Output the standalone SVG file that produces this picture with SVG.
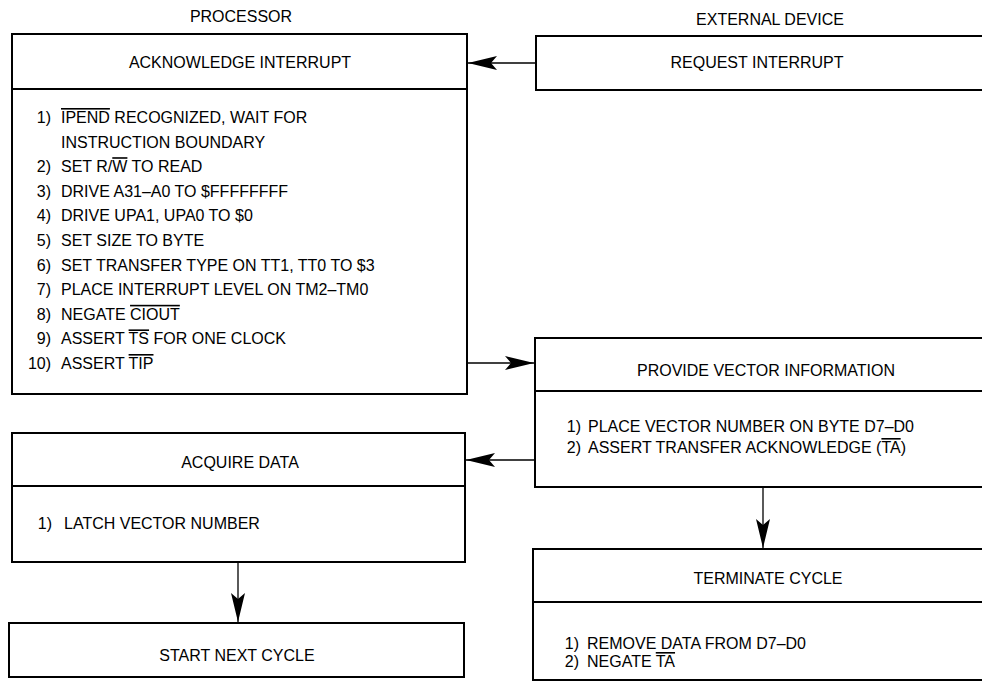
<svg xmlns="http://www.w3.org/2000/svg" width="982" height="683" viewBox="0 0 982 683">
<style>
text{font-family:"Liberation Sans",Arial,sans-serif;font-size:16px;fill:#000}
.c{text-anchor:middle}
.n{text-anchor:end}
.box{fill:#fff;stroke:#000;stroke-width:2}
.div{stroke:#000;stroke-width:2}
.ov{text-decoration:overline}
.con{stroke:#000;stroke-width:1.3;fill:none;marker-end:url(#ah)}
</style>
<defs>
<marker id="ah" viewBox="-29 -8 30 16" refX="0" refY="0" markerWidth="30" markerHeight="16" markerUnits="userSpaceOnUse" orient="auto">
<path d="M0,0 L-29,-7 L-23,0 L-29,7 Z" fill="#000"/>
</marker>
</defs>
<rect width="982" height="683" fill="#fff"/>
<text class="c" x="241" y="22">PROCESSOR</text>
<text class="c" x="770" y="25">EXTERNAL DEVICE</text>

<g id="acknowledge-interrupt">
<rect class="box" x="12" y="34" width="455" height="360"/>
<line class="div" x1="12" y1="89" x2="467" y2="89"/>
<text class="c" x="240" y="68">ACKNOWLEDGE INTERRUPT</text>
<text class="n" x="51" y="123">1)</text><text x="61" y="123"><tspan class="ov">IPEND</tspan> RECOGNIZED, WAIT FOR</text>
<text x="61" y="147.6">INSTRUCTION BOUNDARY</text>
<text class="n" x="51" y="172.2">2)</text><text x="61" y="172.2">SET R/<tspan class="ov">W</tspan> TO READ</text>
<text class="n" x="51" y="196.8">3)</text><text x="61" y="196.8">DRIVE A31–A0 TO $FFFFFFFF</text>
<text class="n" x="51" y="221.4">4)</text><text x="61" y="221.4">DRIVE UPA1, UPA0 TO $0</text>
<text class="n" x="51" y="246">5)</text><text x="61" y="246">SET SIZE TO BYTE</text>
<text class="n" x="51" y="270.6">6)</text><text x="61" y="270.6">SET TRANSFER TYPE ON TT1, TT0 TO $3</text>
<text class="n" x="51" y="295.2">7)</text><text x="61" y="295.2">PLACE INTERRUPT LEVEL ON TM2–TM0</text>
<text class="n" x="51" y="319.8">8)</text><text x="61" y="319.8">NEGATE <tspan class="ov">CIOUT</tspan></text>
<text class="n" x="51" y="344.4">9)</text><text x="61" y="344.4">ASSERT <tspan class="ov">TS</tspan> FOR ONE CLOCK</text>
<text class="n" x="51" y="369">10)</text><text x="61" y="369">ASSERT <tspan class="ov">TIP</tspan></text>
</g>

<g id="request-interrupt">
<rect class="box" x="536" y="36" width="470" height="54"/>
<text class="c" x="757" y="68">REQUEST INTERRUPT</text>
</g>

<g id="provide-vector-information">
<rect class="box" x="535" y="338" width="470" height="149"/>
<line class="div" x1="535" y1="391" x2="1005" y2="391"/>
<text class="c" x="766" y="376">PROVIDE VECTOR INFORMATION</text>
<text class="n" x="581" y="432">1)</text><text x="588" y="432">PLACE VECTOR NUMBER ON BYTE D7–D0</text>
<text class="n" x="581" y="453">2)</text><text x="588" y="453">ASSERT TRANSFER ACKNOWLEDGE (<tspan class="ov">TA</tspan>)</text>
</g>

<g id="acquire-data">
<rect class="box" x="12" y="433" width="453" height="129"/>
<line class="div" x1="12" y1="486" x2="465" y2="486"/>
<text class="c" x="240" y="468">ACQUIRE DATA</text>
<text class="n" x="52" y="529">1)</text><text x="64" y="529">LATCH VECTOR NUMBER</text>
</g>

<g id="start-next-cycle">
<rect class="box" x="9" y="623" width="455" height="54"/>
<text class="c" x="237" y="661">START NEXT CYCLE</text>
</g>

<g id="terminate-cycle">
<rect class="box" x="533" y="549" width="470" height="131"/>
<line class="div" x1="533" y1="602" x2="1003" y2="602"/>
<text class="c" x="768" y="584">TERMINATE CYCLE</text>
<text class="n" x="579" y="649">1)</text><text x="587" y="649">REMOVE DATA FROM D7–D0</text>
<text class="n" x="579" y="667">2)</text><text x="587" y="667">NEGATE <tspan class="ov">TA</tspan></text>
</g>

<g id="connectors">
<line class="con" x1="536" y1="63" x2="468" y2="63"/>
<line class="con" x1="467" y1="363" x2="534" y2="363"/>
<line class="con" x1="535" y1="460" x2="466" y2="460"/>
<line class="con" x1="763" y1="487" x2="763" y2="548"/>
<line class="con" x1="238" y1="562" x2="238" y2="622"/>
</g>
</svg>
